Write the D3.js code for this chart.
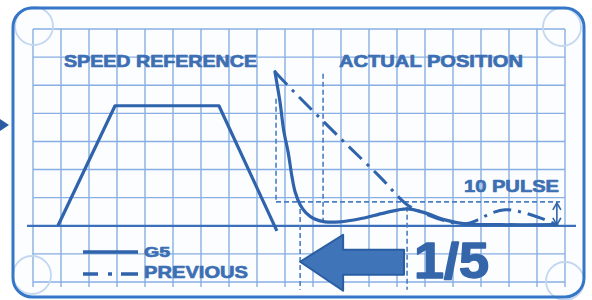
<!DOCTYPE html>
<html><head><meta charset="utf-8">
<script src="https://cdn.jsdelivr.net/npm/d3@7"></script>
<style>html,body{margin:0;padding:0;background:#fff;}svg{display:block;}</style>
</head><body>
<script>
// ---- data (grid units: x = time cells, y = value cells; 0 = baseline) ----
const speedT = [0.89, 2.93, 6.64, 8.71];
const speedV = [0, 4.27, 4.27, -0.18];

const g5T = [8.64, 8.82, 8.96, 9.11, 9.25, 9.36, 9.54, 9.75, 10.04, 10.43, 10.96, 11.68, 12.57, 13.36, 14.0, 14.71, 15.43, 16.68, 18.71];
const g5V = [5.48, 4.41, 3.35, 2.63, 1.74, 1.21, 0.75, 0.46, 0.25, 0.14, 0.14, 0.25, 0.46, 0.60, 0.46, 0.21, 0.07, 0.04, 0.04];

const prevT = [8.64, 9.18, 10.96, 12.39, 13.36, 14.0, 14.71, 15.43, 15.89, 16.32, 16.86, 17.39, 18.11, 18.71];
const prevV = [5.48, 4.91, 3.13, 1.74, 0.75, 0.43, 0.18, 0.07, 0.21, 0.43, 0.57, 0.50, 0.28, 0.04];

const pulseLevel = 0.85;
const guideX = [8.68, 10.36, 9.54, 13.36];       // dashed guide positions
const titles = ["SPEED REFERENCE", "ACTUAL POSITION"];
const pulseLabel = "10 PULSE";
const ratioLabel = "1/5";
const legendLabels = ["G5", "PREVIOUS"];

// ---- drawing ----
const W = 592, H = 300;
const svg = d3.select("body").append("svg").attr("width", W).attr("height", H);
const x = d3.scaleLinear().domain([0, 19]).range([33, 565]);
const y = d3.scaleLinear().domain([-2, 7]).range([282, 29]);

const gridC = "#88aee3", ink = "#2f63ab", textC = "#3d6fb3", guideC = "#4a7ec2";

svg.append("rect").attr("width", W).attr("height", H).attr("fill", "#ffffff");
svg.append("rect").attr("x", 13).attr("y", 8).attr("width", 571).attr("height", 289)
  .attr("rx", 19).attr("fill", "#fbfdff");

// grid
const g = svg.append("g");
g.selectAll("line.v").data(d3.range(0, 20)).join("line")
  .attr("x1", d => x(d)).attr("x2", d => x(d)).attr("y1", y(7)).attr("y2", y(-2) + 5)
  .attr("stroke", gridC).attr("stroke-width", 1.4);
g.selectAll("line.h").data(d3.range(-2, 8)).join("line")
  .attr("x1", x(0)).attr("x2", x(19)).attr("y1", d => y(d)).attr("y2", d => y(d))
  .attr("stroke", gridC).attr("stroke-width", 1.4);

// faded corner circles
[[34, 26], [562, 27], [32, 275], [565, 281]].forEach(c => {
  svg.append("circle").attr("cx", c[0]).attr("cy", c[1]).attr("r", 19)
    .attr("fill", "none").attr("stroke", "#c3d7f0").attr("stroke-width", 1.8);
});

// frame
svg.append("rect").attr("x", 13).attr("y", 8).attr("width", 571).attr("height", 289)
  .attr("rx", 19).attr("fill", "none").attr("stroke", "#3577c6").attr("stroke-width", 3);

// left pointer
svg.append("path").attr("d", "M0,119 L9,125 L0,131 Z").attr("fill", "#2a5ca3");

// baseline
svg.append("line").attr("x1", 27).attr("x2", 576).attr("y1", y(0)).attr("y2", y(0))
  .attr("stroke", "#3a70b9").attr("stroke-width", 2.2);

// dashed guides
const dash = "5,3";
function guide(x1, y1, x2, y2) {
  svg.append("line").attr("x1", x(x1)).attr("y1", y(y1)).attr("x2", x(x2)).attr("y2", y(y2))
    .attr("stroke", guideC).attr("stroke-width", 1.6).attr("stroke-dasharray", dash);
}
guide(guideX[0], 4.52, guideX[0], pulseLevel);
guide(guideX[0], pulseLevel, 18.82, pulseLevel);
guide(guideX[1], 5.41, guideX[1], 0.07);
guide(guideX[2], 0.6, guideX[2], -2.28);
guide(guideX[3], 0.68, guideX[3], -2.28);

// speed reference
const line = d3.line().x(d => x(d[0])).y(d => y(d[1]));
svg.append("path").datum(d3.zip(speedT, speedV)).attr("d", line)
  .attr("fill", "none").attr("stroke", ink).attr("stroke-width", 3.2).attr("stroke-linejoin", "round");

// actual position curves
const curve = d3.line().x(d => x(d[0])).y(d => y(d[1])).curve(d3.curveCatmullRom.alpha(0.5));
svg.append("path").datum(d3.zip(prevT, prevV)).attr("d", curve)
  .attr("fill", "none").attr("stroke", ink).attr("stroke-width", 3)
  .attr("stroke-dasharray", "18,7,3,7");
svg.append("path").datum(d3.zip(g5T, g5V)).attr("d", curve)
  .attr("fill", "none").attr("stroke", ink).attr("stroke-width", 3.2).attr("stroke-linecap", "round");

// 10 pulse double arrow
const ax = x(18.71), ay1 = y(pulseLevel), ay2 = y(0);
svg.append("line").attr("x1", ax).attr("x2", ax).attr("y1", ay1 + 2).attr("y2", ay2 - 2)
  .attr("stroke", ink).attr("stroke-width", 1.6);
svg.append("path").attr("d", `M${ax - 4},${ay1 + 8} L${ax},${ay1 + 1} L${ax + 4},${ay1 + 8}`)
  .attr("fill", "none").attr("stroke", ink).attr("stroke-width", 1.6);
svg.append("path").attr("d", `M${ax - 4},${ay2 - 8} L${ax},${ay2 - 1} L${ax + 4},${ay2 - 8}`)
  .attr("fill", "none").attr("stroke", ink).attr("stroke-width", 1.6);

// big left arrow between guides
const tipX = x(guideX[2]), endX = x(13.25), headX = tipX + 43, cy = y(-1.28);
svg.append("path")
  .attr("d", `M${tipX},${cy} L${headX},${cy - 27} L${headX},${cy - 12} L${endX},${cy - 12} L${endX},${cy + 13} L${headX},${cy + 13} L${headX},${cy + 29} Z`)
  .attr("fill", "#3f74b9").attr("stroke", "#2a5da2").attr("stroke-width", 2).attr("stroke-linejoin", "round");

// texts
function txt(s, xx, yy, size, len, col, sw) {
  const c = col || textC;
  svg.append("text").attr("x", xx).attr("y", yy).text(s)
    .attr("font-family", "'Liberation Sans', Arial, sans-serif").attr("font-weight", "bold")
    .attr("font-size", size).attr("fill", c).attr("stroke", c).attr("stroke-width", sw || 0.7)
    .attr("stroke-linejoin", "round")
    .attr("textLength", len).attr("lengthAdjust", "spacingAndGlyphs");
}
txt(titles[0], 64, 67, 17, 193);
txt(titles[1], 339, 67, 17, 184);
txt(pulseLabel, 464, 192, 17, 95);
txt(ratioLabel, 414, 278, 50, 75, "#3566a9", 1.5);
txt(legendLabels[0], 144, 257, 15, 26);
txt(legendLabels[1], 144, 278, 17, 104);

// legend samples
svg.append("line").attr("x1", 83).attr("x2", 138).attr("y1", 252).attr("y2", 252)
  .attr("stroke", ink).attr("stroke-width", 3.5);
svg.append("line").attr("x1", 83).attr("x2", 138).attr("y1", 274).attr("y2", 274)
  .attr("stroke", ink).attr("stroke-width", 3.5).attr("stroke-dasharray", "15,10,4,9,17");
</script>
</body></html>
